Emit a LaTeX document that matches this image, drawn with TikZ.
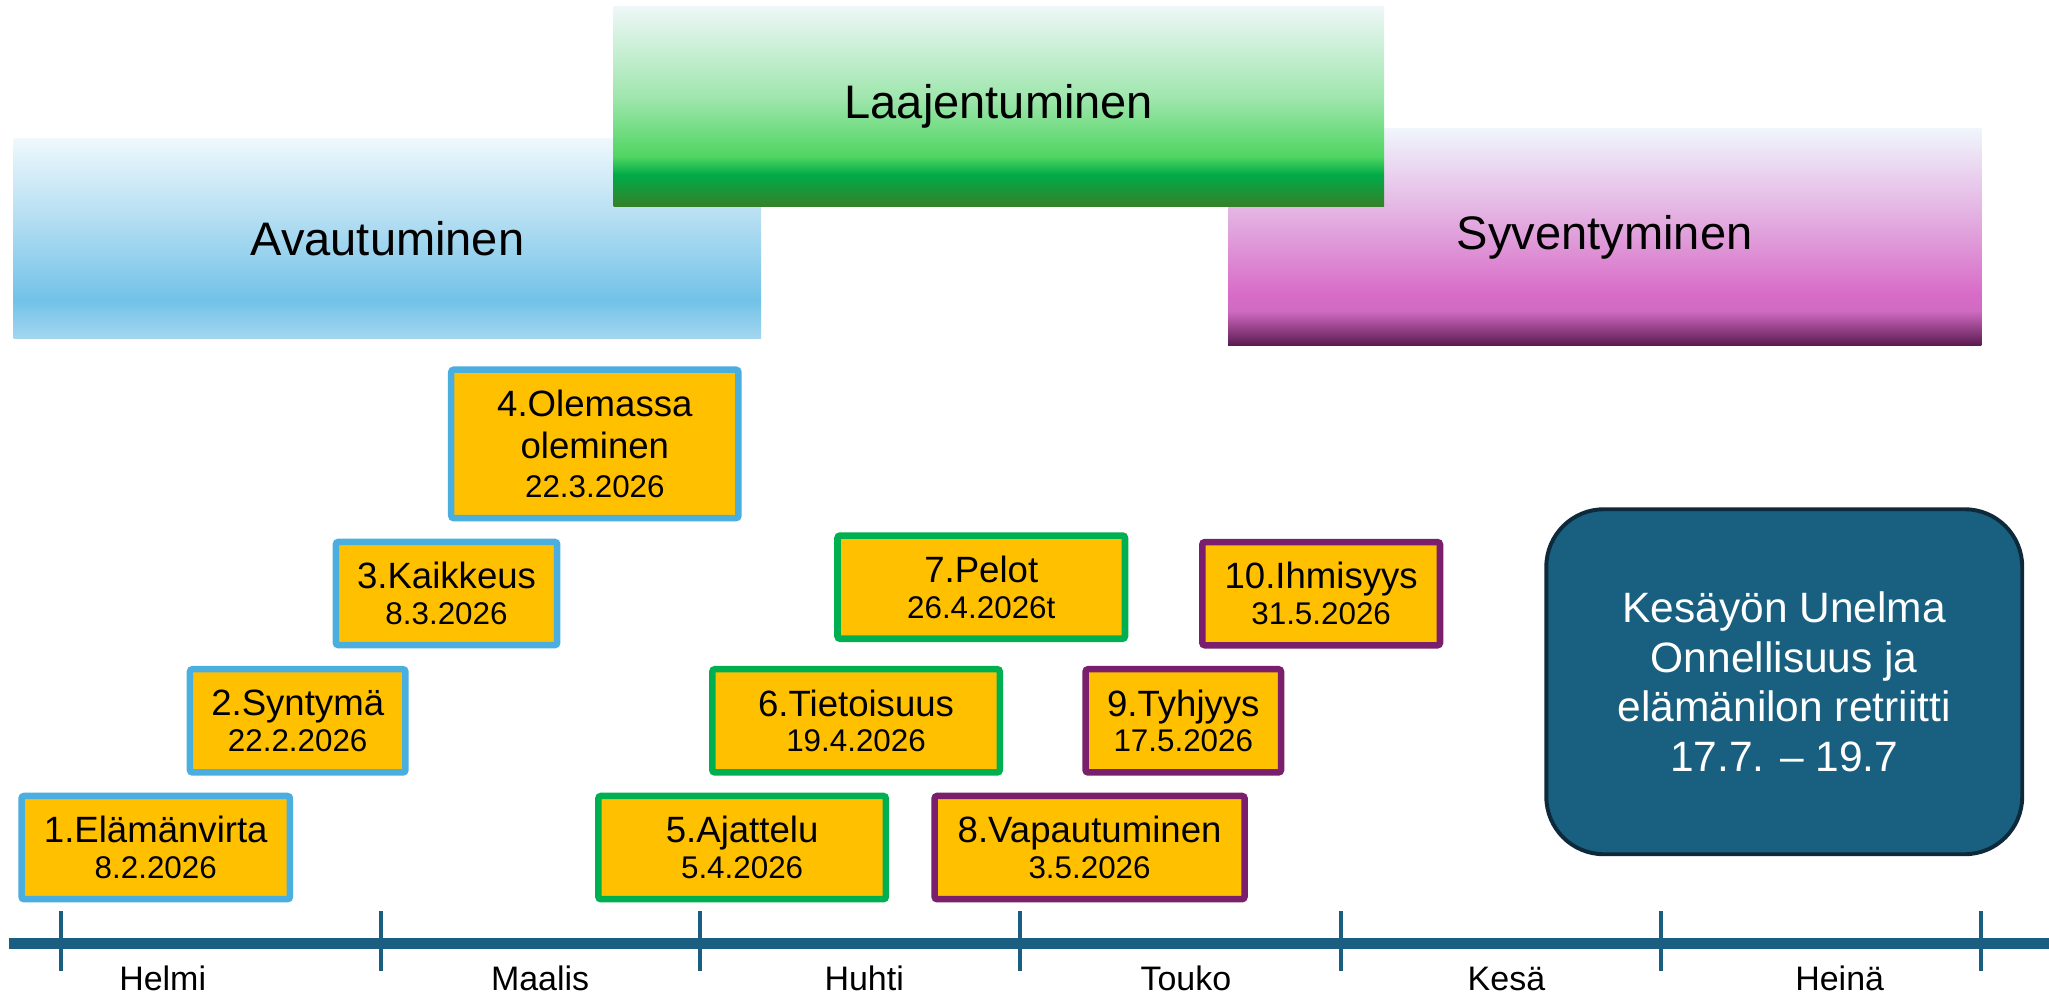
\documentclass[tikz,border=0pt]{standalone}
\usepackage{fontspec}
\setmainfont{Liberation Sans}
\definecolor{cfill}{HTML}{FFC000}
\definecolor{cblue}{HTML}{4AAEDF}
\definecolor{cgreen}{HTML}{00B050}
\definecolor{cpurple}{HTML}{7A1F6B}
\definecolor{caxis}{HTML}{1A5F82}
\definecolor{cret}{HTML}{185F80}
\definecolor{cretb}{HTML}{0E2A3A}
\definecolor{blA}{HTML}{EEF8FC}
\definecolor{blB}{HTML}{B4DEF2}
\definecolor{blC}{HTML}{72C2E8}
\definecolor{blD}{HTML}{A4D6EF}
\definecolor{grA}{HTML}{EEF7F8}
\definecolor{grB}{HTML}{A0E6AE}
\definecolor{grC}{HTML}{4FD561}
\definecolor{grD}{HTML}{00AB48}
\definecolor{grE}{HTML}{36802A}
\definecolor{puA}{HTML}{F0F5FC}
\definecolor{puB}{HTML}{E3B0E1}
\definecolor{puC}{HTML}{D86CC8}
\definecolor{puD}{HTML}{D06AC2}
\definecolor{puE}{HTML}{5A1A50}
\pgfdeclareverticalshading{blueshade}{100bp}{color(0bp)=(blD); color(25bp)=(blD); color(34.5bp)=(blC); color(55bp)=(blB); color(75bp)=(blA); color(100bp)=(blA)}
\pgfdeclareverticalshading{greenshade}{100bp}{color(0bp)=(grE); color(25bp)=(grE); color(33bp)=(grD); color(37.5bp)=(grC); color(52.5bp)=(grB); color(75bp)=(grA); color(100bp)=(grA)}
\pgfdeclareverticalshading{purpleshade}{100bp}{color(0bp)=(puE); color(25bp)=(puE); color(33bp)=(puD); color(37bp)=(puC); color(55bp)=(puB); color(75bp)=(puA); color(100bp)=(puA)}
\tikzset{
  header/.style={rectangle, inner sep=0pt, font=\fontsize{18pt}{21pt}\selectfont},
  evbox/.style={rectangle, draw, line width=2.5pt, fill=cfill, rounded corners=1pt, inner sep=0pt, align=center, minimum height=39.5pt, font=\fontsize{14pt}{13.65pt}\selectfont},
  bluebox/.style={evbox, draw=cblue},
  greenbox/.style={evbox, draw=cgreen},
  purplebox/.style={evbox, draw=cpurple},
  datef/.style={},
  axisline/.style={draw=caxis, line width=3.85pt},
  tickline/.style={draw=caxis, line width=1.5pt},
  month/.style={anchor=base, inner sep=0pt, font=\fontsize{13pt}{15pt}\selectfont},
  retreat/.style={rectangle, draw=cretb, line width=1.5pt, fill=cret, rounded corners=22pt, inner sep=0pt, align=center, text=white, minimum width=182.1pt, minimum height=132pt, font=\fontsize{16.25pt}{19pt}\selectfont}
}
\newcommand{\dt}[1]{{\fontsize{12pt}{13.65pt}\selectfont #1}}
\begin{document}
\begin{tikzpicture}[x=0.5pt, y=-0.5pt]
\useasboundingbox (0,0) rectangle (1568,762);
% headers
\node[header, shading=blueshade, minimum width=286pt, minimum height=76.3pt] (hblue) at (296.5,182.5) {Avautuminen};
\node[header, shading=purpleshade, minimum width=288.25pt, minimum height=82.85pt] (hpurple) at (1228,181.5) {Syventyminen};
\node[header, shading=greenshade, minimum width=294.8pt, minimum height=76.5pt] (hgreen) at (764.4,81.6) {Laajentuminen};
% event boxes
\node[bluebox, minimum width=102.7pt] (e1) at (119.2,648.6) {1.Elämänvirta\\\dt{8.2.2026}};
\node[bluebox, minimum width=82.45pt] (e2) at (227.8,551.6) {2.Syntymä\\\dt{22.2.2026}};
\node[bluebox, minimum width=84.7pt] (e3) at (341.7,454.2) {3.Kaikkeus\\\dt{8.3.2026}};
\node[bluebox, minimum width=109.9pt, minimum height=56.8pt, font=\fontsize{14pt}{16pt}\selectfont] (e4) at (455.2,339.7) {4.Olemassa\\oleminen\\[-1pt]\dt{22.3.2026}};
\node[greenbox, minimum width=110pt] (e5) at (567.9,648.6) {5.Ajattelu\\\dt{5.4.2026}};
\node[greenbox, minimum width=110pt] (e6) at (655.1,551.6) {6.Tietoisuus\\\dt{19.4.2026}};
\node[greenbox, minimum width=110pt] (e7) at (750.9,449.3) {7.Pelot\\\dt{26.4.2026t}};
\node[purplebox, minimum width=118.6pt] (e8) at (833.8,648.6) {8.Vapautuminen\\\dt{3.5.2026}};
\node[purplebox, minimum width=74.8pt] (e9) at (905.5,551.6) {9.Tyhjyys\\\dt{17.5.2026}};
\node[purplebox, minimum width=90.95pt] (e10) at (1011,454.3) {10.Ihmisyys\\\dt{31.5.2026}};
% retreat
\node[retreat] (ret) at (1365.4,521.7) {Kesäyön Unelma\\Onnellisuus ja\\elämänilon retriitti\\17.7. – 19.7};
% axis
\coordinate (axL) at (7,722);
\coordinate (axR) at (1568,722);
\draw[axisline] (axL) -- (axR);
\foreach \i/\x in {0/46.7,1/291.5,2/535.7,3/780.8,4/1026.3,5/1271.1,6/1515.8}{
  \coordinate (t\i a) at (\x,697);
  \coordinate (t\i b) at (\x,743);
  \draw[tickline] (t\i a) -- (t\i b);
}
\node[month] (m1) at (124.5,758) {Helmi};
\node[month] (m2) at (413.3,758) {Maalis};
\node[month] (m3) at (661.3,758) {Huhti};
\node[month] (m4) at (907.5,758) {Touko};
\node[month] (m5) at (1152.8,758) {Kesä};
\node[month] (m6) at (1407.8,758) {Heinä};
\end{tikzpicture}
\end{document}
